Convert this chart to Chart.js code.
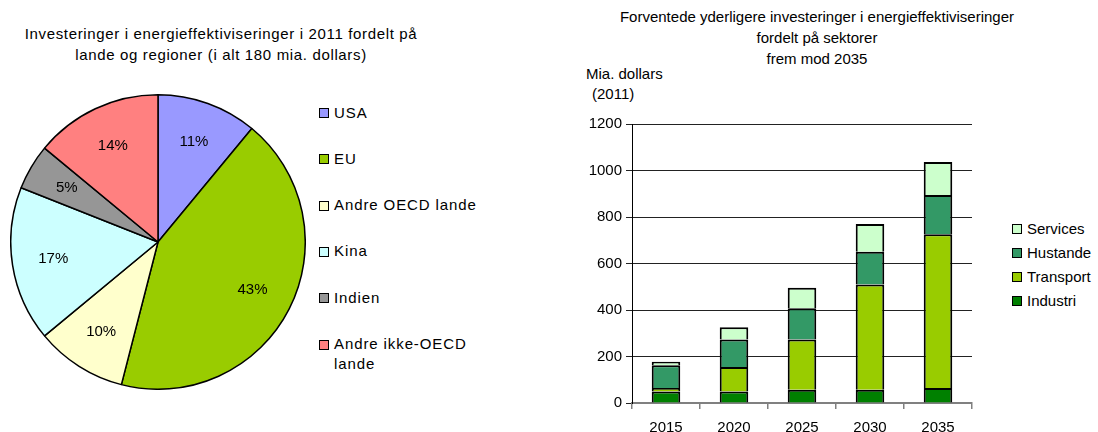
<!DOCTYPE html>
<html>
<head>
<meta charset="utf-8">
<script src="https://cdn.jsdelivr.net/npm/chart.js@4.4.0/dist/chart.umd.min.js"></script>
<style>
  body { margin: 0; background: #fff; font-family: "Liberation Sans", Arial, sans-serif; color: #000; }
  #wrap { position: relative; width: 1098px; height: 432px; overflow: hidden; }
  .txt { position: absolute; font-size: 15px; line-height: 21px; white-space: nowrap; }
  .ctr { text-align: center; }
  .box { position: absolute; width: 8px; height: 8px; border: 1px solid #000; }
  canvas { position: absolute; }
</style>
</head>
<body>
<div id="wrap">
  <div class="txt ctr" style="left:0; width:442px; top:23px; letter-spacing:0.65px;">Investeringer i energieffektiviseringer i 2011 fordelt på<br>lande og regioner (i alt 180 mia. dollars)</div>
  <div class="txt ctr" style="left:600px; width:434px; top:6px;">Forventede yderligere investeringer i energieffektiviseringer<br>fordelt på sektorer<br>frem mod 2035</div>
  <div class="txt" style="left:586px; top:63px;">Mia. dollars</div>
  <div class="txt" style="left:592px; top:83px;">(2011)</div>
  <div id="pieLegend" style="letter-spacing:0.9px;"></div>
  <div id="barLegend"></div>
  <canvas id="pieChart" width="296" height="296" style="left:10px; top:94px;"></canvas>
  <canvas id="barChart" width="420" height="332" style="left:560px; top:100px;"></canvas>
</div>
<script>
// Fordeling 2011 (procent)
const regioner = ["USA", "EU", "Andre OECD lande", "Kina", "Indien", "Andre ikke-OECD\nlande"];
const andele = [11, 43, 10, 17, 5, 14];
const regionFarver = ["#9999FF", "#99CC00", "#FFFFCC", "#CCFFFF", "#969696", "#FF8080"];

// Investeringer pr. sektor (mia. dollars)
const aar = ["2015", "2020", "2025", "2030", "2035"];
const industri = [50, 50, 57, 57, 65];
const transport = [15, 105, 216, 453, 661];
const hustande = [97, 118, 134, 141, 169];
const services = [15, 53, 89, 119, 142];
const yTicks = [0, 200, 400, 600, 800, 1000, 1200];

const sektorer = ["Industri", "Transport", "Hustande", "Services"];
const sektorFarver = ["#008000", "#99CC00", "#339966", "#CCFFCC"];

const FONT = '"Liberation Sans", Arial, sans-serif';

// Legende som html
function lavLegende(id, labels, farver, left, top, step) {
  const el = document.getElementById(id);
  labels.forEach((lab, i) => {
    const y = top + i * step;
    const b = document.createElement("div");
    b.className = "box";
    b.style.left = left + "px";
    b.style.top = (y - 5) + "px";
    b.style.background = farver[i];
    el.appendChild(b);
    const t = document.createElement("div");
    t.className = "txt";
    t.style.left = (left + 15) + "px";
    t.style.top = (y - 10.5) + "px";
    t.style.lineHeight = "20px";
    t.innerHTML = lab.replace("\n", "<br>");
    el.appendChild(t);
  });
}

lavLegende("pieLegend", regioner, regionFarver, 319, 113, 46.3);
lavLegende("barLegend", sektorer.slice().reverse(), sektorFarver.slice().reverse(), 1012, 229, 24);

// procent-tekst i lagkagen
const procentPlugin = {
  id: "procent",
  afterDatasetsDraw(chart) {
    const ctx = chart.ctx;
    const meta = chart.getDatasetMeta(0);
    ctx.save();
    ctx.font = "15px " + FONT;
    ctx.fillStyle = "#000";
    ctx.textAlign = "center";
    ctx.textBaseline = "middle";
    meta.data.forEach((arc, i) => {
      const p = arc.getProps(["x", "y", "startAngle", "endAngle", "outerRadius"], true);
      const a = (p.startAngle + p.endAngle) / 2;
      const r = p.outerRadius * 0.72;
      ctx.fillText(andele[i] + "%", p.x + Math.cos(a) * r, p.y + Math.sin(a) * r);
    });
    ctx.restore();
  }
};

new Chart(document.getElementById("pieChart").getContext("2d"), {
  type: "pie",
  data: {
    labels: regioner,
    datasets: [{
      data: andele,
      backgroundColor: regionFarver,
      borderColor: "#000",
      borderWidth: 1.5
    }]
  },
  options: {
    responsive: false,
    animation: false,
    layout: { padding: 0 },
    plugins: { legend: { display: false }, tooltip: { enabled: false } }
  },
  plugins: [procentPlugin]
});

const serier = [industri, transport, hustande, services];

new Chart(document.getElementById("barChart").getContext("2d"), {
  type: "bar",
  data: {
    labels: aar,
    datasets: serier.map((d, i) => ({
      label: sektorer[i],
      data: d,
      backgroundColor: sektorFarver[i],
      borderColor: "#000",
      borderWidth: 2,
      barPercentage: 0.42,
      categoryPercentage: 1
    }))
  },
  options: {
    responsive: false,
    animation: false,
    layout: { padding: { top: 24, right: 8, left: 0, bottom: 0 } },
    plugins: { legend: { display: false }, tooltip: { enabled: false } },
    scales: {
      x: {
        stacked: true,
        afterFit: (s) => { s.height = 29; },
        grid: { drawOnChartArea: false, tickLength: 6, color: "#808080", lineWidth: 1.5 },
        border: { color: "#808080", width: 2 },
        ticks: { color: "#000", font: { family: FONT, size: 15 }, padding: 10, maxRotation: 0 }
      },
      y: {
        stacked: true,
        min: 0,
        max: 1200,
        afterFit: (s) => { s.width = 72; },
        afterBuildTicks: (s) => { s.ticks = yTicks.map((v) => ({ value: v })); },
        grid: { color: "#222", lineWidth: 1, tickLength: 6 },
        border: { color: "#000", width: 1 },
        ticks: {
          color: "#000",
          font: { family: FONT, size: 15 },
          padding: 4,
          callback: (v) => String(v)
        }
      }
    }
  }
});
</script>
</body>
</html>
